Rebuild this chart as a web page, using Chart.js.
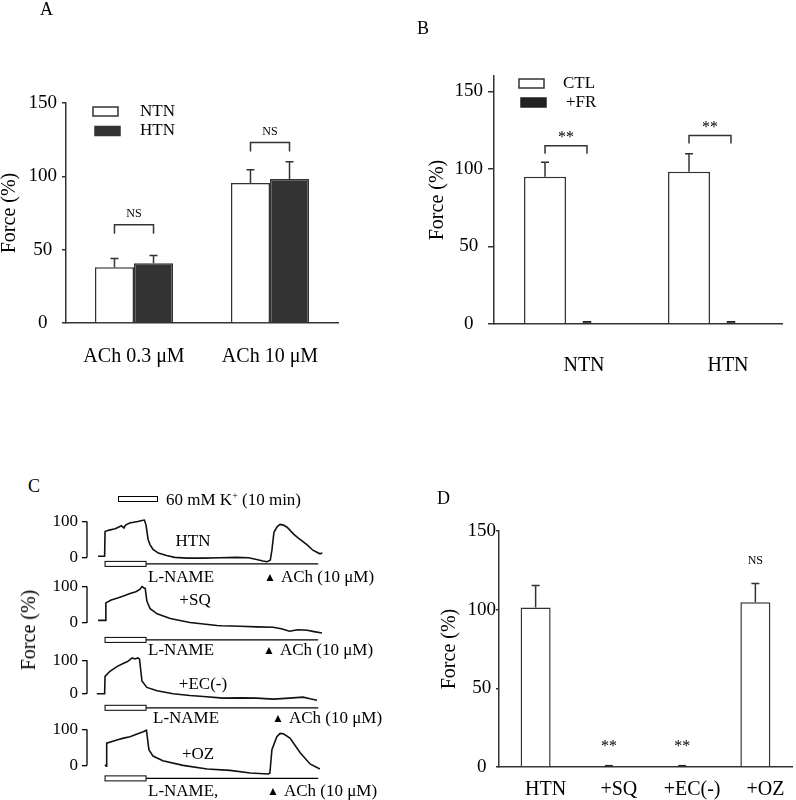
<!DOCTYPE html>
<html>
<head>
<meta charset="utf-8">
<script src="https://cdn.jsdelivr.net/npm/chart.js@4.4.1/dist/chart.umd.min.js"></script>
<style>
  body { margin: 0; background: #fff; }
  #page { position: relative; width: 796px; height: 800px; overflow: hidden; font-family: "Liberation Serif", "Times New Roman", serif; color: #000; }
  canvas { position: absolute; }
  .txt { position: absolute; white-space: nowrap; line-height: 1; }
</style>
</head>
<body>
<div id="page"></div>
<script>
// Panel A: ACh response, NTN vs HTN
const groupsA = ['ACh 0.3 μM', 'ACh 10 μM'];
const ntnA = [38, 95.4];
const ntnErrA = [6, 9.1];
const htnA = [40.7, 98.2];
const htnErrA = [5.3, 11.8];
const bracketA = [67, 123];
const bracketLabA = ['NS', 'NS'];

// Panel B: control vs +FR
const groupsB = ['NTN', 'HTN'];
const ctlB = [95, 98.3];
const ctlErrB = [9.3, 11.5];
const frB = [2, 2];
const bracketB = [115, 121.6];
const bracketLabB = ['**', '**'];

// Panel C: force traces, [time (min), force (%)]
const traceNames = ['HTN', '+SQ', '+EC(-)', '+OZ'];
const traceHTN = [[-1.7,3],[-0.1,3],[0,72],[1,76],[2.5,80],[4,88],[4.6,82],[5,90],[6,96],[7,98],[8,100],[9,103],[9.6,104],[10,90],[10.5,50],[11,35],[11.7,22],[13,12],[15,5],[17,0],[20,-2],[24,-2],[28,-1],[32,0],[35,-1],[37,-6],[38.5,-10],[39.5,-12],[40.3,-8],[40.7,20],[41.2,70],[42,86],[42.7,92],[43.5,90],[44.4,84],[46,65],[47,55],[49.3,35],[50.7,20],[52.4,10],[53,12]];
const traceSQ = [[-1.7,7],[0.1,7],[0.2,55],[1.5,63],[2.9,68],[4.5,74],[6.1,81],[7.5,86],[8.5,92],[9,100],[9.5,96],[9.8,95],[10.2,60],[11,39],[12.7,25],[15.9,12],[20.7,1],[24,-3],[27.3,-7],[28.5,-8],[32.9,-9],[37,-11],[41,-12],[43,-16],[45,-23],[47,-19],[49.3,-20],[51,-24],[52.9,-28]];
const traceEC = [[-2,0],[-0.1,0],[0,52],[1.2,67],[2.9,81],[4.4,90],[5.5,96],[6.6,107],[7.3,104],[8,107],[8.4,104],[9,38],[10.2,19],[12.7,9],[16.6,0],[20.7,-5],[24,-8],[28.8,-13],[33,-12],[37,-13],[41,-16],[45,-13],[48.3,-10],[50,-15],[51.7,-19]];
const traceOZ = [[0,2],[0.3,-2],[0.4,62],[1.5,66],[2.9,71],[4.5,76],[6.1,80],[7.5,86],[9.3,94],[10.1,98],[10.7,44],[11.7,26],[14.1,13],[19,0],[24.9,-10],[30.5,-14],[35.4,-21],[39.8,-24],[40.2,-22],[40.7,44],[41.9,80],[42.7,89],[43.5,88],[45.1,76],[47.6,35],[50,4],[52.4,-10]];
const kOn = 0, kOff = 10, protocolEnd = 52;

// Panel D: HTN with inhibitors
const groupsD = ['HTN', '+SQ', '+EC(-)', '+OZ'];
const openD = [101.3, null, null, 104.7];
const openErrD = [14, null, null, 12];
const blockedD = [null, 1.5, 1.5, null];
const sigD = ['', '**', '**', 'NS'];
const sigPosD = [null, 13, 13, 131];

const ticksBar = [0, 50, 100, 150];
const ticksTrace = [0, 100];

const SERIF = '"Liberation Serif", "Times New Roman", serif';
const INK = '#333';
const page = document.getElementById('page');

function addCanvas(x, y, w, h) {
    const c = document.createElement('canvas');
    c.width = w; c.height = h;
    c.style.left = x + 'px'; c.style.top = y + 'px';
    c.style.width = w + 'px'; c.style.height = h + 'px';
    page.appendChild(c);
    return c;
}

function addText(html, x, y, size, anchor) {
    const d = document.createElement('div');
    d.className = 'txt';
    d.innerHTML = html;
    d.style.fontSize = size + 'px';
    d.style.left = x + 'px';
    d.style.top = y + 'px';
    if (anchor === 'center') d.style.transform = 'translate(-50%,-50%)';
    else if (anchor === 'left') d.style.transform = 'translate(0,-50%)';
    page.appendChild(d);
    return d;
}

// error bars, brackets, legend and star labels for the bar panels
const barExtras = {
    id: 'barExtras',
    afterDatasetsDraw(chart, args, opts) {
        const ctx = chart.ctx;
        const x = chart.scales.x, y = chart.scales.y;
        ctx.save();
        ctx.strokeStyle = INK;
        ctx.lineWidth = 1.5;

        chart.data.datasets.forEach((ds, i) => {
            if (!ds.errors) return;
            chart.getDatasetMeta(i).data.forEach((bar, j) => {
                if (ds.data[j] == null || !ds.errors[j]) return;
                const top = y.getPixelForValue(ds.data[j] + ds.errors[j]);
                ctx.beginPath();
                ctx.moveTo(bar.x, bar.y); ctx.lineTo(bar.x, top);
                ctx.moveTo(bar.x - 4, top); ctx.lineTo(bar.x + 4, top);
                ctx.stroke();
            });
        });

        ctx.fillStyle = '#000';
        ctx.textAlign = 'center';
        ctx.textBaseline = 'middle';

        if (opts.brackets) {
            const b = opts.brackets;
            const m0 = chart.getDatasetMeta(0).data, m1 = chart.getDatasetMeta(1).data;
            b.values.forEach((v, j) => {
                const x1 = m0[j].x, x2 = m1[j].x, yt = y.getPixelForValue(v);
                ctx.beginPath();
                ctx.moveTo(x1, yt + b.leg); ctx.lineTo(x1, yt); ctx.lineTo(x2, yt); ctx.lineTo(x2, yt + b.leg);
                ctx.stroke();
                ctx.font = b.size + 'px ' + SERIF;
                ctx.fillText(b.labels[j], (x1 + x2) / 2, yt - b.gap);
            });
        }

        if (opts.sig) {
            const s = opts.sig;
            s.labels.forEach((lab, j) => {
                if (!lab) return;
                ctx.font = (lab === 'NS' ? 12 : 16) + 'px ' + SERIF;
                ctx.fillText(lab, x.getPixelForValue(j), y.getPixelForValue(s.values[j]));
            });
        }

        if (opts.legend) {
            const L = opts.legend;
            ctx.textAlign = 'left';
            ctx.font = '17px ' + SERIF;
            chart.data.datasets.forEach((ds, i) => {
                const cy = L.y + i * L.dy;
                const bx = L.x + i * L.shift;
                ctx.fillStyle = ds.backgroundColor;
                ctx.fillRect(bx, cy - 4.5, 25, 9);
                ctx.strokeStyle = ds.borderColor;
                ctx.strokeRect(bx, cy - 4.5, 25, 9);
                ctx.fillStyle = '#000';
                ctx.fillText(ds.label, L.textX + i * L.textShift, cy);
            });
        }
        ctx.restore();
    }
};

function barOptions(o) {
    return {
        responsive: false,
        animation: false,
        layout: { padding: { top: o.top, right: o.right, bottom: 0, left: 0 } },
        plugins: { legend: { display: false }, tooltip: { enabled: false }, barExtras: o.extras },
        scales: {
            x: {
                grid: { display: false, drawTicks: false },
                border: { color: INK, width: 1.5 },
                ticks: { color: '#000', font: { family: SERIF, size: 20 }, padding: o.xPad, labelOffset: o.labelOffset || 0, maxRotation: 0, autoSkip: false },
                afterFit(s) { s.height = o.xHeight; }
            },
            y: {
                min: 0,
                max: o.max,
                afterBuildTicks(s) { s.ticks = ticksBar.map(v => ({ value: v })); },
                grid: { drawOnChartArea: false, color: INK, lineWidth: 1.5, tickLength: o.tick },
                border: { color: INK, width: 1.5 },
                ticks: { color: '#000', font: { family: SERIF, size: 19 }, padding: o.yPad, crossAlign: 'center' },
                title: { display: true, text: 'Force (%)', color: '#000', font: { family: SERIF, size: 20 }, padding: { top: o.titlePad, bottom: 0 } },
                afterFit(s) { s.width = o.yWidth; }
            }
        }
    };
}

// Panel A
new Chart(addCanvas(0, 0, 400, 390), {
    type: 'bar',
    data: {
        labels: groupsA,
        datasets: [
            { label: 'NTN', data: ntnA, errors: ntnErrA, backgroundColor: '#ffffff', borderColor: INK, borderWidth: 1.5, categoryPercentage: 0.574, barPercentage: 1 },
            { label: 'HTN', data: htnA, errors: htnErrA, backgroundColor: '#333333', borderColor: INK, borderWidth: 1.5, categoryPercentage: 0.574, barPercentage: 1 }
        ]
    },
    options: barOptions({
        top: 103, right: 62, xHeight: 67, yWidth: 66, max: 150, tick: 4, yPad: 5, xPad: 22, titlePad: -2,
        extras: {
            brackets: { values: bracketA, labels: bracketLabA, leg: 9, gap: 11, size: 12 },
            legend: { x: 93, y: 111.5, dy: 19.5, shift: 2, textX: 140, textShift: 0 }
        }
    }),
    plugins: [barExtras]
});

// Panel B
new Chart(addCanvas(400, 0, 396, 390), {
    type: 'bar',
    data: {
        labels: groupsB,
        datasets: [
            { label: 'CTL', data: ctlB, errors: ctlErrB, backgroundColor: '#ffffff', borderColor: INK, borderWidth: 1.5, categoryPercentage: 0.583, barPercentage: 1 },
            { label: '+FR', data: frB, backgroundColor: '#222222', borderColor: '#222222', borderWidth: 1, borderSkipped: false, categoryPercentage: 0.583, barPercentage: 0.214 }
        ]
    },
    options: barOptions({
        top: 76, right: 14, xHeight: 66, yWidth: 94, max: 160, tick: 6, yPad: 5, xPad: 30, labelOffset: 18, titlePad: 26,
        extras: {
            brackets: { values: bracketB, labels: bracketLabB, leg: 8, gap: 8, size: 16 },
            legend: { x: 119, y: 83.5, dy: 19, shift: 2, textX: 163, textShift: 3 }
        }
    }),
    plugins: [barExtras]
});

// Panel D
new Chart(addCanvas(400, 470, 396, 330), {
    type: 'bar',
    data: {
        labels: groupsD,
        datasets: [
            { label: 'Force', data: openD, errors: openErrD, backgroundColor: '#ffffff', borderColor: INK, borderWidth: 1.5, grouped: false, categoryPercentage: 1, barPercentage: 0.41 },
            { label: 'Blocked', data: blockedD, backgroundColor: '#222222', borderColor: '#222222', borderWidth: 1.5, borderSkipped: false, grouped: false, categoryPercentage: 1, barPercentage: 0.11 }
        ]
    },
    options: barOptions({
        top: 61, right: 4, xHeight: 33, yWidth: 99, max: 150, tick: 3, yPad: 0, xPad: 11, labelOffset: 10, titlePad: 38,
        extras: { sig: { labels: sigD, values: sigPosD } }
    }),
    plugins: [barExtras]
});

// Panel C: traces with scale bar and protocol bar
const traceExtras = {
    id: 'traceExtras',
    afterDraw(chart, args, opts) {
        const ctx = chart.ctx, area = chart.chartArea;
        const x = chart.scales.x, y = chart.scales.y;
        const y0 = y.getPixelForValue(0), y100 = y.getPixelForValue(100);
        ctx.save();
        ctx.strokeStyle = '#000';
        ctx.lineWidth = 1.3;
        ctx.beginPath();
        ctx.moveTo(area.left, y0); ctx.lineTo(area.left, y100);
        ctx.stroke();
        const yb = y0 + opts.gap;
        const xa = x.getPixelForValue(kOn), xb = x.getPixelForValue(kOff), xe = x.getPixelForValue(protocolEnd);
        ctx.beginPath();
        ctx.moveTo(xa, yb); ctx.lineTo(xe, yb);
        ctx.stroke();
        ctx.fillStyle = '#fff';
        ctx.lineWidth = 1;
        ctx.fillRect(xa, yb - 2.5, xb - xa, 5);
        ctx.strokeRect(xa, yb - 2.5, xb - xa, 5);
        ctx.restore();
    }
};

const traces = [traceHTN, traceSQ, traceEC, traceOZ];
const traceLayout = [
    { zero: 557, px100: 37, gap: 6.5 },
    { zero: 622.5, px100: 37.5, gap: 17 },
    { zero: 693.3, px100: 35, gap: 14 },
    { zero: 765, px100: 37, gap: 13 }
];
const yLo = -35, yHi = 112, xLo = -4.4, xHi = 55;

traces.forEach((pts, i) => {
    const L = traceLayout[i];
    const k = L.px100 / 100;
    const areaTop = L.zero - yHi * k;
    const areaH = (yHi - yLo) * k;
    const top = Math.floor(areaTop - 12);
    const padTop = areaTop - top;
    const h = Math.ceil(padTop + areaH + 26);
    const areaW = (xHi - xLo) * 4.1;
    new Chart(addCanvas(0, top, 340, h), {
        type: 'line',
        data: {
            datasets: [{
                label: traceNames[i],
                data: pts.map(p => ({ x: p[0], y: p[1] })),
                borderColor: '#111',
                borderWidth: 1.6,
                pointRadius: 0,
                tension: 0
            }]
        },
        options: {
            responsive: false,
            animation: false,
            layout: { padding: { top: padTop, right: 340 - 87 - areaW, bottom: h - padTop - areaH, left: 0 } },
            plugins: { legend: { display: false }, tooltip: { enabled: false }, traceExtras: { gap: L.gap } },
            scales: {
                x: { type: 'linear', display: false, min: xLo, max: xHi },
                y: {
                    min: yLo,
                    max: yHi,
                    afterBuildTicks(s) { s.ticks = ticksTrace.map(v => ({ value: v })); },
                    grid: { drawOnChartArea: false, color: '#000', lineWidth: 1.3, tickLength: 5 },
                    border: { display: false },
                    ticks: { color: '#000', font: { family: SERIF, size: 17 }, padding: 4 },
                    afterFit(s) { s.width = 87; }
                }
            }
        },
        plugins: [traceExtras]
    });
});

// panel letters
addText('A', 40, 0, 18);
addText('B', 417, 19, 18);
addText('C', 28, 477, 18);
addText('D', 437, 489, 18);

// panel C text
const kBox = document.createElement('div');
kBox.style.cssText = 'position:absolute;left:118px;top:496px;width:40px;height:6px;border:1px solid #000;box-sizing:border-box;background:#fff;';
page.appendChild(kBox);
addText('60 mM K<span style="font-size:10px;position:relative;top:-6px">+</span> (10 min)', 166, 499, 17, 'left');

const yTitle = addText('Force (%)', 28, 630, 20, 'center');
yTitle.style.transform = 'translate(-50%,-50%) rotate(-90deg)';

const tri = '<span style="font-size:12px;margin-right:5px;position:relative;top:-1px">▲</span>';
const traceText = [
    { name: [193, 540], drug: 'L-NAME', dx: 148, ach: 264, y: 576 },
    { name: [195, 599], drug: 'L-NAME', dx: 148, ach: 263, y: 649 },
    { name: [203, 683], drug: 'L-NAME', dx: 153, ach: 272, y: 717 },
    { name: [198, 753], drug: 'L-NAME,', dx: 148, ach: 267, y: 790 }
];
traceText.forEach((t, i) => {
    addText(traceNames[i], t.name[0], t.name[1], 17, 'center');
    addText(t.drug, t.dx, t.y, 17, 'left');
    addText(tri + 'ACh (10 μM)', t.ach, t.y, 17, 'left');
});
</script>
</body>
</html>
